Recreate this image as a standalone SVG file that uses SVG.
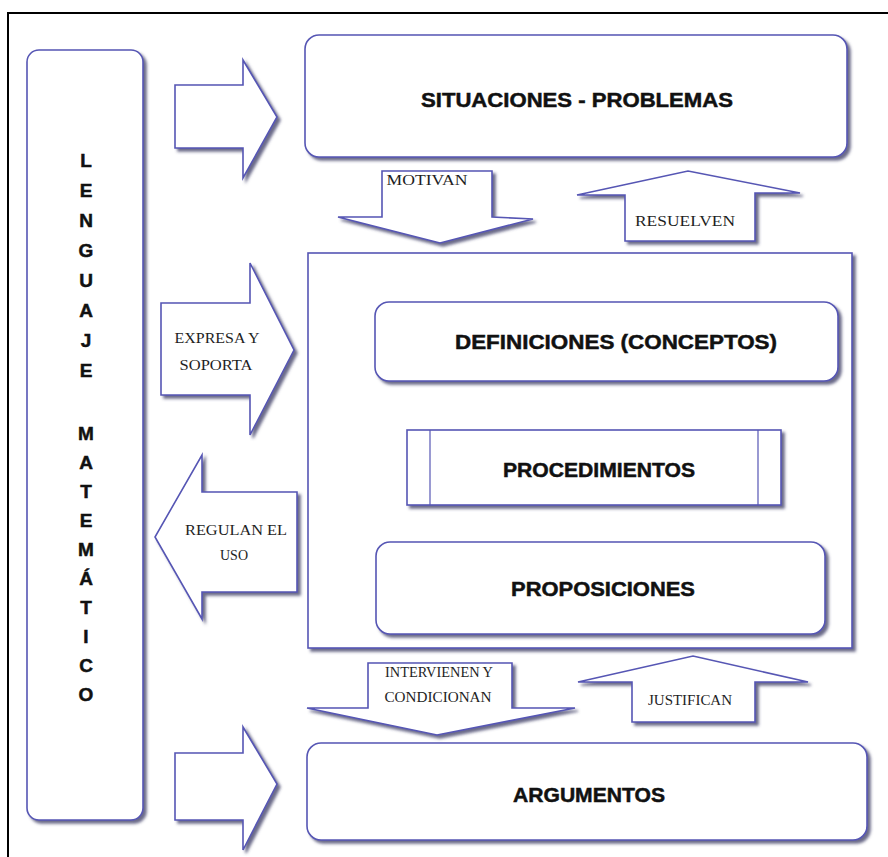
<svg xmlns="http://www.w3.org/2000/svg" width="888" height="857" viewBox="0 0 888 857">
  <style>
    .box { fill: #ffffff; stroke: #5656b4; stroke-width: 1.6; filter: url(#shadow); }
    .arrow { fill: #ffffff; stroke: #5656b4; stroke-width: 1.6; stroke-linejoin: miter; filter: url(#shadow); }
    .thin { stroke: #5656b4; stroke-width: 1.2; fill: none; }
    .title { font-family: "Liberation Sans", Arial, sans-serif; font-weight: bold; font-size: 21px; fill: #111; stroke: #111; stroke-width: 0.5; text-anchor: middle; }
    .letter { font-family: "Liberation Sans", Arial, sans-serif; font-weight: bold; font-size: 19px; fill: #111; stroke: #111; stroke-width: 0.5; text-anchor: middle; }
    .label { font-family: "Liberation Serif", "Times New Roman", serif; font-size: 15px; fill: #1e1e1e; text-anchor: middle; }
  </style>
  <defs>
    <filter id="shadow" x="-10%" y="-10%" width="125%" height="125%">
      <feDropShadow dx="3" dy="3" stdDeviation="1.6" flood-color="#45456a" flood-opacity="0.8"/>
    </filter>
  </defs>

  <rect width="888" height="857" fill="#ffffff"/>
  <!-- page frame -->
  <path d="M8 870 L8 13 L900 13" fill="none" stroke="#000" stroke-width="2"/>

  <!-- left column: mathematical language -->
  <g id="lenguaje">
    <rect class="box" x="27" y="50" width="116" height="770" rx="12"/>
    <text class="letter" x="86" y="167">L</text>
    <text class="letter" x="86" y="197">E</text>
    <text class="letter" x="86" y="227">N</text>
    <text class="letter" x="86" y="257">G</text>
    <text class="letter" x="86" y="287">U</text>
    <text class="letter" x="86" y="317">A</text>
    <text class="letter" x="86" y="347">J</text>
    <text class="letter" x="86" y="377">E</text>
    <text class="letter" x="86" y="440">M</text>
    <text class="letter" x="86" y="469">A</text>
    <text class="letter" x="86" y="498">T</text>
    <text class="letter" x="86" y="527">E</text>
    <text class="letter" x="86" y="556">M</text>
    <text class="letter" x="86" y="585">Á</text>
    <text class="letter" x="86" y="614">T</text>
    <text class="letter" x="86" y="643">I</text>
    <text class="letter" x="86" y="672">C</text>
    <text class="letter" x="86" y="701">O</text>
  </g>

  <g id="situaciones">
    <rect class="box" x="305" y="35" width="542" height="122" rx="14"/>
    <text class="title" x="577" y="107" textLength="312" lengthAdjust="spacingAndGlyphs">SITUACIONES - PROBLEMAS</text>
  </g>

  <g id="nucleo">
    <rect class="box" x="308" y="253" width="544" height="395"/>
  </g>

  <g id="definiciones">
    <rect class="box" x="375" y="302" width="463" height="79" rx="14"/>
    <text class="title" x="616" y="349" textLength="322" lengthAdjust="spacingAndGlyphs">DEFINICIONES (CONCEPTOS)</text>
  </g>

  <g id="procedimientos">
    <rect class="box" x="407" y="430" width="374" height="75"/>
    <line class="thin" x1="430" y1="430" x2="430" y2="505"/>
    <line class="thin" x1="758" y1="430" x2="758" y2="505"/>
    <text class="title" x="599" y="477" textLength="192" lengthAdjust="spacingAndGlyphs">PROCEDIMIENTOS</text>
  </g>

  <g id="proposiciones">
    <rect class="box" x="376" y="542" width="449" height="92" rx="14"/>
    <text class="title" x="603" y="596" textLength="184" lengthAdjust="spacingAndGlyphs">PROPOSICIONES</text>
  </g>

  <g id="argumentos">
    <rect class="box" x="307" y="743" width="560" height="97" rx="14"/>
    <text class="title" x="589" y="802" textLength="152" lengthAdjust="spacingAndGlyphs">ARGUMENTOS</text>
  </g>

  <!-- block arrows linking the elements -->
  <g id="conectores">
    <polygon class="arrow" points="175,85 243,85 243,60 277,117 243,178 243,148 175,148"/>
    <polygon class="arrow" points="175,753 243,753 243,727 277,784 243,850 243,820 175,820"/>

    <polygon class="arrow" points="382,171 492,171 492,217 533,219 440,243 338,217 382,217"/>
    <text class="label" x="427" y="185" textLength="81" lengthAdjust="spacingAndGlyphs">MOTIVAN</text>

    <polygon class="arrow" points="625,241 625,195 577,195 688,171 800,193 755,193 755,241"/>
    <text class="label" x="685" y="226" textLength="100" lengthAdjust="spacingAndGlyphs">RESUELVEN</text>

    <polygon class="arrow" points="161,303 250,303 250,263 294,350 250,435 250,395 161,395"/>
    <text class="label" x="217" y="343" textLength="85" lengthAdjust="spacingAndGlyphs">EXPRESA Y</text>
    <text class="label" x="216" y="370" textLength="73" lengthAdjust="spacingAndGlyphs">SOPORTA</text>

    <polygon class="arrow" points="297,492 202,492 202,455 155,537 202,619 202,592 297,592"/>
    <text class="label" x="236" y="535" textLength="102" lengthAdjust="spacingAndGlyphs">REGULAN EL</text>
    <text class="label" x="234" y="560" textLength="28" lengthAdjust="spacingAndGlyphs">USO</text>

    <polygon class="arrow" points="368,663 512,663 512,708 575,708 437,735 307,708 368,708"/>
    <text class="label" x="439" y="677" textLength="108" lengthAdjust="spacingAndGlyphs">INTERVIENEN Y</text>
    <text class="label" x="438" y="702" textLength="107" lengthAdjust="spacingAndGlyphs">CONDICIONAN</text>

    <polygon class="arrow" points="632,722 632,682 578,682 693,656 808,682 755,682 755,722"/>
    <text class="label" x="690" y="705" textLength="84" lengthAdjust="spacingAndGlyphs">JUSTIFICAN</text>
  </g>
</svg>
